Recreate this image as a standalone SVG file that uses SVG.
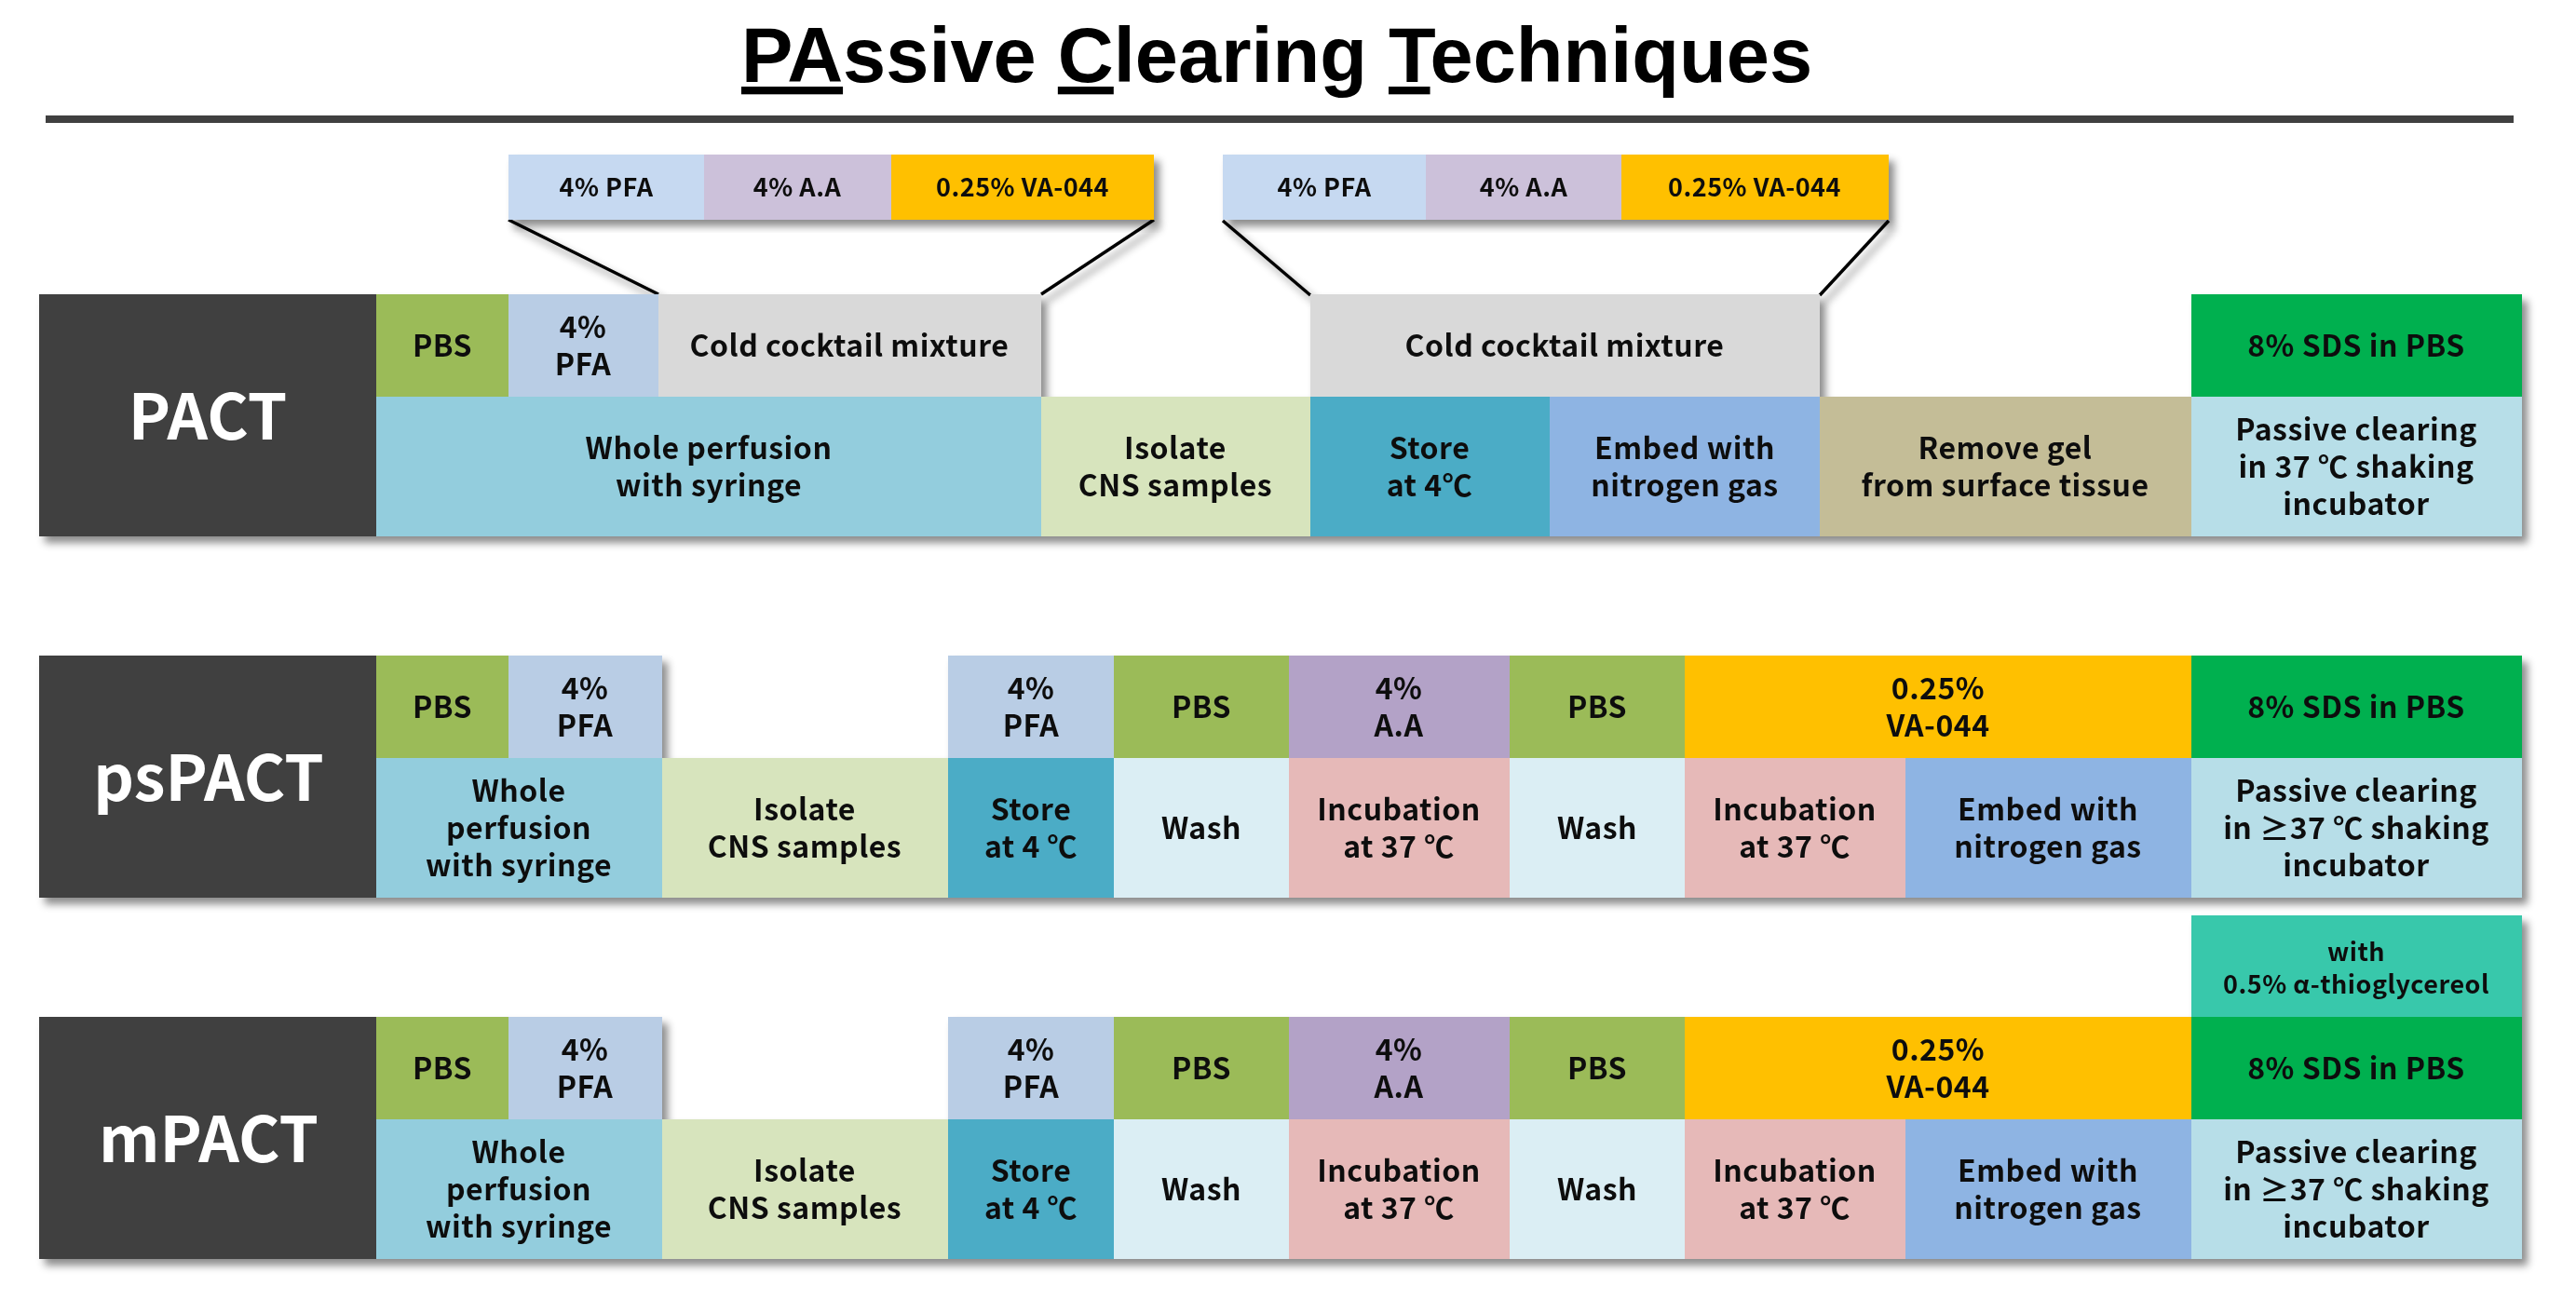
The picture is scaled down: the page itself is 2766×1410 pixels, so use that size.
<svg xmlns="http://www.w3.org/2000/svg" width="2766" height="1410" viewBox="0 0 2766 1410">
<defs>
<filter id="sh" x="-5%" y="-10%" width="115%" height="130%">
<feDropShadow dx="6" dy="7" stdDeviation="4.5" flood-color="#000" flood-opacity="0.45"/>
</filter>
<style>
.t{font-family:"Noto Sans CJK KR","Noto Sans",sans-serif;font-weight:700;font-size:32px;fill:#111;text-anchor:middle;letter-spacing:0.5px}
.s{font-size:27px}
.lab{font-family:"Noto Sans CJK KR","Noto Sans",sans-serif;font-weight:700;font-size:68px;fill:#fff;text-anchor:middle}
.title{font-family:"Liberation Sans",Arial,sans-serif;font-weight:700;font-size:83px;fill:#000;text-anchor:middle}
.ln{stroke:#000;stroke-width:3.5;fill:none}
</style>
</defs>
<rect width="2766" height="1410" fill="#fff"/>
<g id="title">
<text class="title" x="1371" y="88"><tspan text-decoration="underline">PA</tspan>ssive <tspan text-decoration="underline">C</tspan>learing <tspan text-decoration="underline">T</tspan>echniques</text>
<rect x="49" y="124" width="2650" height="8" fill="#404040"/>
</g>

<g id="connectors" filter="url(#sh)">
<line class="ln" x1="546" y1="236" x2="707" y2="316"/>
<line class="ln" x1="1239" y1="236" x2="1118" y2="316"/>
<line class="ln" x1="1313" y1="237" x2="1407" y2="317"/>
<line class="ln" x1="2028" y1="237" x2="1954" y2="317"/>
</g>

<g id="cocktail1" filter="url(#sh)">
<rect x="546" y="166" width="210" height="70" fill="#C6D9F1"/>
<rect x="756" y="166" width="201" height="70" fill="#CCC1DA"/>
<rect x="957" y="166" width="282" height="70" fill="#FFC000"/>
<text class="t s" x="651" y="211">4% PFA</text>
<text class="t s" x="856" y="211">4% A.A</text>
<text class="t s" x="1098" y="211">0.25% VA-044</text>
</g>
<g id="cocktail2" filter="url(#sh)">
<rect x="1313" y="166" width="218" height="70" fill="#C6D9F1"/>
<rect x="1531" y="166" width="210" height="70" fill="#CCC1DA"/>
<rect x="1741" y="166" width="287" height="70" fill="#FFC000"/>
<text class="t s" x="1422" y="211">4% PFA</text>
<text class="t s" x="1636" y="211">4% A.A</text>
<text class="t s" x="1884" y="211">0.25% VA-044</text>
</g>

<g id="pact" filter="url(#sh)">
<rect x="42" y="316" width="362" height="260" fill="#404040"/>
<rect x="404" y="316" width="142" height="110" fill="#9BBB59"/>
<rect x="546" y="316" width="161" height="110" fill="#B9CDE5"/>
<rect x="707" y="316" width="411" height="110" fill="#D9D9D9"/>
<rect x="1407" y="316" width="547" height="110" fill="#D9D9D9"/>
<rect x="2353" y="316" width="355" height="110" fill="#00B050"/>
<rect x="404" y="426" width="714" height="150" fill="#93CDDD"/>
<rect x="1118" y="426" width="289" height="150" fill="#D7E4BD"/>
<rect x="1407" y="426" width="257" height="150" fill="#4BACC6"/>
<rect x="1664" y="426" width="290" height="150" fill="#8EB4E3"/>
<rect x="1954" y="426" width="399" height="150" fill="#C4BD97"/>
<rect x="2353" y="426" width="355" height="150" fill="#B7DEE8"/>
<text class="lab" x="223" y="472">PACT</text>
<text class="t" x="475" y="383">PBS</text>
<text class="t" x="626" y="363">4%<tspan x="626" dy="40">PFA</tspan></text>
<text class="t" x="912" y="383">Cold cocktail mixture</text>
<text class="t" x="1680" y="383">Cold cocktail mixture</text>
<text class="t" x="2530" y="383">8% SDS in PBS</text>
<text class="t" x="761" y="493">Whole perfusion<tspan x="761" dy="40">with syringe</tspan></text>
<text class="t" x="1262" y="493">Isolate<tspan x="1262" dy="40">CNS samples</tspan></text>
<text class="t" x="1535" y="493">Store<tspan x="1535" dy="40">at 4℃</tspan></text>
<text class="t" x="1809" y="493">Embed with<tspan x="1809" dy="40">nitrogen gas</tspan></text>
<text class="t" x="2153" y="493">Remove gel<tspan x="2153" dy="40">from surface tissue</tspan></text>
<text class="t" x="2530" y="473">Passive clearing<tspan x="2530" dy="40">in 37 ℃ shaking</tspan><tspan x="2530" dy="40">incubator</tspan></text>
</g>

<g id="pspact" filter="url(#sh)">
<rect x="42" y="704" width="362" height="260" fill="#404040"/>
<rect x="404" y="704" width="142" height="110" fill="#9BBB59"/>
<rect x="546" y="704" width="165" height="110" fill="#B9CDE5"/>
<rect x="1018" y="704" width="178" height="110" fill="#B9CDE5"/>
<rect x="1196" y="704" width="188" height="110" fill="#9BBB59"/>
<rect x="1384" y="704" width="237" height="110" fill="#B3A2C7"/>
<rect x="1621" y="704" width="188" height="110" fill="#9BBB59"/>
<rect x="1809" y="704" width="544" height="110" fill="#FFC000"/>
<rect x="2353" y="704" width="355" height="110" fill="#00B050"/>
<rect x="404" y="814" width="307" height="150" fill="#93CDDD"/>
<rect x="711" y="814" width="307" height="150" fill="#D7E4BD"/>
<rect x="1018" y="814" width="178" height="150" fill="#4BACC6"/>
<rect x="1196" y="814" width="188" height="150" fill="#DBEEF4"/>
<rect x="1384" y="814" width="237" height="150" fill="#E6B9B8"/>
<rect x="1621" y="814" width="188" height="150" fill="#DBEEF4"/>
<rect x="1809" y="814" width="237" height="150" fill="#E6B9B8"/>
<rect x="2046" y="814" width="307" height="150" fill="#8EB4E3"/>
<rect x="2353" y="814" width="355" height="150" fill="#B7DEE8"/>
<text class="lab" x="224" y="860">psPACT</text>
<text class="t" x="475" y="771">PBS</text>
<text class="t" x="628" y="751">4%<tspan x="628" dy="40">PFA</tspan></text>
<text class="t" x="1107" y="751">4%<tspan x="1107" dy="40">PFA</tspan></text>
<text class="t" x="1290" y="771">PBS</text>
<text class="t" x="1502" y="751">4%<tspan x="1502" dy="40">A.A</tspan></text>
<text class="t" x="1715" y="771">PBS</text>
<text class="t" x="2081" y="751">0.25%<tspan x="2081" dy="40">VA-044</tspan></text>
<text class="t" x="2530" y="771">8% SDS in PBS</text>
<text class="t" x="557" y="861">Whole<tspan x="557" dy="40">perfusion</tspan><tspan x="557" dy="40">with syringe</tspan></text>
<text class="t" x="864" y="881">Isolate<tspan x="864" dy="40">CNS samples</tspan></text>
<text class="t" x="1107" y="881">Store<tspan x="1107" dy="40">at 4 ℃</tspan></text>
<text class="t" x="1290" y="901">Wash</text>
<text class="t" x="1502" y="881">Incubation<tspan x="1502" dy="40">at 37 ℃</tspan></text>
<text class="t" x="1715" y="901">Wash</text>
<text class="t" x="1927" y="881">Incubation<tspan x="1927" dy="40">at 37 ℃</tspan></text>
<text class="t" x="2199" y="881">Embed with<tspan x="2199" dy="40">nitrogen gas</tspan></text>
<text class="t" x="2530" y="861">Passive clearing<tspan x="2530" dy="40">in ≥37 ℃ shaking</tspan><tspan x="2530" dy="40">incubator</tspan></text>
</g>

<g id="mpact" filter="url(#sh)">
<rect x="2353" y="983" width="355" height="110" fill="#37C8AB"/>
<rect x="42" y="1092" width="362" height="260" fill="#404040"/>
<rect x="404" y="1092" width="142" height="110" fill="#9BBB59"/>
<rect x="546" y="1092" width="165" height="110" fill="#B9CDE5"/>
<rect x="1018" y="1092" width="178" height="110" fill="#B9CDE5"/>
<rect x="1196" y="1092" width="188" height="110" fill="#9BBB59"/>
<rect x="1384" y="1092" width="237" height="110" fill="#B3A2C7"/>
<rect x="1621" y="1092" width="188" height="110" fill="#9BBB59"/>
<rect x="1809" y="1092" width="544" height="110" fill="#FFC000"/>
<rect x="2353" y="1092" width="355" height="110" fill="#00B050"/>
<rect x="404" y="1202" width="307" height="150" fill="#93CDDD"/>
<rect x="711" y="1202" width="307" height="150" fill="#D7E4BD"/>
<rect x="1018" y="1202" width="178" height="150" fill="#4BACC6"/>
<rect x="1196" y="1202" width="188" height="150" fill="#DBEEF4"/>
<rect x="1384" y="1202" width="237" height="150" fill="#E6B9B8"/>
<rect x="1621" y="1202" width="188" height="150" fill="#DBEEF4"/>
<rect x="1809" y="1202" width="237" height="150" fill="#E6B9B8"/>
<rect x="2046" y="1202" width="307" height="150" fill="#8EB4E3"/>
<rect x="2353" y="1202" width="355" height="150" fill="#B7DEE8"/>
<text class="lab" x="224" y="1248">mPACT</text>
<text class="t s" x="2530" y="1032">with<tspan x="2530" dy="35">0.5% α-thioglycereol</tspan></text>
<text class="t" x="475" y="1159">PBS</text>
<text class="t" x="628" y="1139">4%<tspan x="628" dy="40">PFA</tspan></text>
<text class="t" x="1107" y="1139">4%<tspan x="1107" dy="40">PFA</tspan></text>
<text class="t" x="1290" y="1159">PBS</text>
<text class="t" x="1502" y="1139">4%<tspan x="1502" dy="40">A.A</tspan></text>
<text class="t" x="1715" y="1159">PBS</text>
<text class="t" x="2081" y="1139">0.25%<tspan x="2081" dy="40">VA-044</tspan></text>
<text class="t" x="2530" y="1159">8% SDS in PBS</text>
<text class="t" x="557" y="1249">Whole<tspan x="557" dy="40">perfusion</tspan><tspan x="557" dy="40">with syringe</tspan></text>
<text class="t" x="864" y="1269">Isolate<tspan x="864" dy="40">CNS samples</tspan></text>
<text class="t" x="1107" y="1269">Store<tspan x="1107" dy="40">at 4 ℃</tspan></text>
<text class="t" x="1290" y="1289">Wash</text>
<text class="t" x="1502" y="1269">Incubation<tspan x="1502" dy="40">at 37 ℃</tspan></text>
<text class="t" x="1715" y="1289">Wash</text>
<text class="t" x="1927" y="1269">Incubation<tspan x="1927" dy="40">at 37 ℃</tspan></text>
<text class="t" x="2199" y="1269">Embed with<tspan x="2199" dy="40">nitrogen gas</tspan></text>
<text class="t" x="2530" y="1249">Passive clearing<tspan x="2530" dy="40">in ≥37 ℃ shaking</tspan><tspan x="2530" dy="40">incubator</tspan></text>
</g>
</svg>
